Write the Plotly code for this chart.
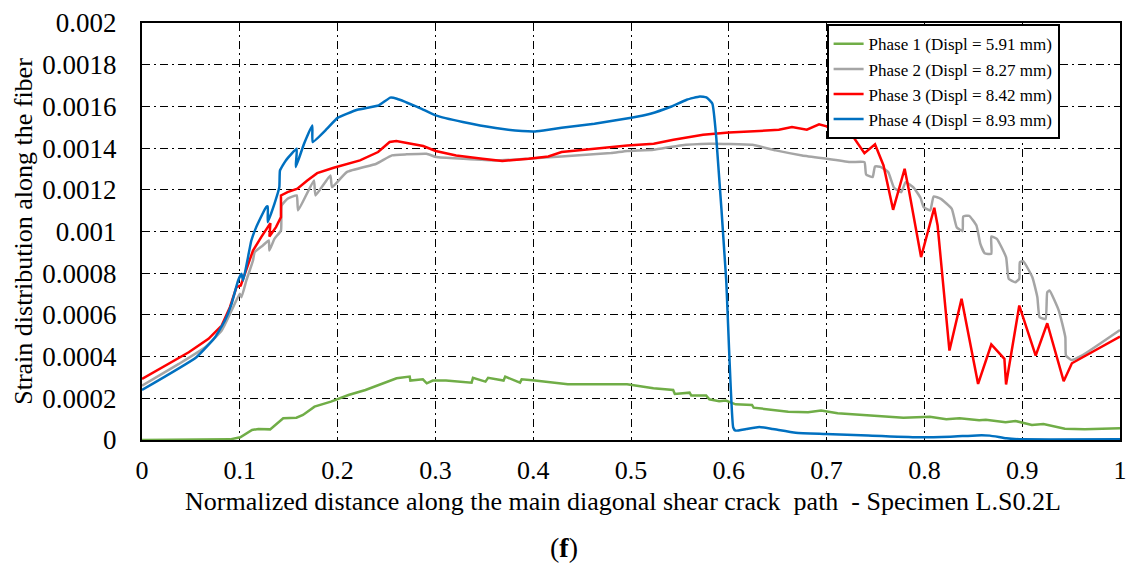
import plotly.graph_objects as go

# Normalized distance / strain readings for each loading phase
phase1_x = [0, 0.04, 0.072, 0.09, 0.1005, 0.1125, 0.119, 0.131, 0.1444, 0.1579, 0.1646, 0.1764,
            0.1932, 0.2111, 0.2285, 0.247, 0.2603, 0.2737, 0.2744, 0.2872, 0.2912, 0.2973, 0.3108,
            0.337, 0.3384, 0.3512, 0.3539, 0.3697, 0.3714, 0.3865, 0.3882, 0.4017, 0.4354, 0.4623,
            0.496, 0.5229, 0.5431, 0.5448, 0.5599, 0.5616, 0.5768, 0.5801, 0.5902, 0.597, 0.6069,
            0.6237, 0.6254, 0.6608, 0.681, 0.6944, 0.7113, 0.745, 0.7786, 0.8055, 0.8224, 0.8359,
            0.856, 0.8628, 0.883, 0.8931, 0.9099, 0.9217, 0.9436, 0.9638, 1.0]
phase1_y = [0, 0, 0, 0.000003, 0.000013, 0.000048, 0.000053, 0.000051, 0.000104, 0.000107, 0.00012,
            0.00016, 0.000184, 0.000216, 0.00024, 0.000272, 0.000296, 0.000304, 0.000285, 0.000291,
            0.000272, 0.000285, 0.000285, 0.000275, 0.000298, 0.00028, 0.000298, 0.000285, 0.000304,
            0.000275, 0.000291, 0.000285, 0.000267, 0.000267, 0.000267, 0.000248, 0.00024, 0.000221,
            0.000227, 0.000214, 0.000214, 0.000195, 0.000186, 0.000189, 0.000171, 0.000168, 0.000155,
            0.000136, 0.000133, 0.000141, 0.000128, 0.000117, 0.000107, 0.000112, 0.0000992, 0.000104,
            0.0000944, 0.0000976, 0.0000848, 0.0000912, 0.000072, 0.0000768, 0.0000544, 0.0000512,
            0.000056]

phase2_x = [0, 0.0377, 0.0646, 0.0815, 0.0916, 0.1, 0.1017, 0.1067, 0.1135, 0.1152, 0.1236, 0.1296,
            0.1303, 0.1354, 0.1421, 0.1428, 0.1488, 0.1582, 0.1596, 0.1758, 0.1774, 0.1926, 0.1943,
            0.2094, 0.2397, 0.2556, 0.2707, 0.2909, 0.301, 0.328, 0.3616, 0.3953, 0.429, 0.4795,
            0.4963, 0.5232, 0.5502, 0.5805, 0.6, 0.624, 0.648, 0.675, 0.7, 0.725, 0.7387, 0.7404,
            0.7471, 0.7495, 0.7556, 0.763, 0.769, 0.7764, 0.7808, 0.7892, 0.796, 0.7993, 0.806,
            0.8094, 0.8168, 0.828, 0.833, 0.839, 0.8397, 0.8458, 0.8532, 0.8572, 0.8616, 0.8684,
            0.8684, 0.8741, 0.8835, 0.8862, 0.8929, 0.897, 0.8976, 0.901, 0.9104, 0.9155, 0.9178,
            0.9239, 0.9256, 0.9279, 0.9374, 0.9441, 0.9448, 0.9502, 0.9609, 1.0]
phase2_y = [0.00026, 0.000365, 0.000445, 0.000525, 0.000621, 0.000701, 0.000685, 0.000765, 0.000861,
            0.000901, 0.000933, 0.000957, 0.000909, 0.000965, 0.001005, 0.001125, 0.001157, 0.001173,
            0.001101, 0.001245, 0.001173, 0.001269, 0.001213, 0.001285, 0.001325, 0.001365, 0.00137,
            0.001373, 0.001357, 0.001349, 0.001341, 0.001349, 0.00136, 0.001376, 0.001386, 0.001392,
            0.001413, 0.001421, 0.00142, 0.001416, 0.001389, 0.001365, 0.001349, 0.001333, 0.001333,
            0.0012736, 0.0012608, 0.001312, 0.0013088, 0.0012848, 0.0012096, 0.0011888, 0.0012368,
            0.0012096, 0.0011616, 0.0011168, 0.0011008, 0.001168, 0.0011568, 0.0011088, 0.0010208,
            0.0010016, 0.001072, 0.0010752, 0.0010288, 0.0009408, 0.000896, 0.0008928, 0.000976,
            0.0009648, 0.0008768, 0.0007728, 0.0007568, 0.0007728, 0.0008528, 0.0008576, 0.0007808,
            0.0006848, 0.0005888, 0.0005808, 0.0007088, 0.0007168, 0.0006208, 0.0004928, 0.0004048,
            0.000384, 0.0004048, 0.000528]

phase3_x = [0, 0.0209, 0.0478, 0.068, 0.0815, 0.0899, 0.0966, 0.101, 0.1067, 0.1135, 0.1219, 0.1313,
            0.1303, 0.137, 0.1421, 0.1421, 0.1488, 0.1589, 0.169, 0.1791, 0.196, 0.2229, 0.2414,
            0.2532, 0.26, 0.2707, 0.2875, 0.3003, 0.3212, 0.3481, 0.3684, 0.3953, 0.4155, 0.429,
            0.4626, 0.4963, 0.5232, 0.5434, 0.5737, 0.6, 0.631, 0.6512, 0.6646, 0.6798, 0.6923, 0.7,
            0.7101, 0.7192, 0.7286, 0.7387, 0.7495, 0.7582, 0.768, 0.7798, 0.7842, 0.7966, 0.8101,
            0.8135, 0.8256, 0.838, 0.8549, 0.8684, 0.8818, 0.8835, 0.897, 0.9138, 0.9256, 0.9424,
            0.9508, 1.0]
phase3_y = [0.000293, 0.000349, 0.000421, 0.000485, 0.000549, 0.000637, 0.000733, 0.000741, 0.000813,
            0.000909, 0.000973, 0.00104, 0.000976, 0.001021, 0.001069, 0.001173, 0.001189, 0.001205,
            0.001245, 0.00128, 0.001306, 0.001341, 0.001381, 0.001429, 0.001434, 0.001424, 0.00141,
            0.001386, 0.001365, 0.001349, 0.001338, 0.001349, 0.00136, 0.001381, 0.001397, 0.001413,
            0.001421, 0.00144, 0.001464, 0.001475, 0.001482, 0.001488, 0.001501, 0.001488, 0.001514,
            0.001504, 0.001472, 0.001493, 0.001445, 0.001376, 0.001418, 0.001317, 0.001104, 0.001301,
            0.001197, 0.000877, 0.001114, 0.001029, 0.000429, 0.000677, 0.000269, 0.000458, 0.000389,
            0.000266, 0.000645, 0.000405, 0.00056, 0.000282, 0.000368, 0.000496]

phase4_x = [0, 0.0556, 0.0747, 0.0848, 0.0916, 0.0983, 0.1017, 0.1034, 0.1084, 0.1118, 0.1168, 0.1269,
            0.1286, 0.1286, 0.1354, 0.1404, 0.1411, 0.1471, 0.1582, 0.1572, 0.1657, 0.1741, 0.1745,
            0.1892, 0.2, 0.2202, 0.2421, 0.2539, 0.2606, 0.2842, 0.3003, 0.328, 0.3616, 0.3886, 0.402,
            0.4155, 0.429, 0.4626, 0.5003, 0.5199, 0.54, 0.5569, 0.5704, 0.5771, 0.5832, 0.5872,
            0.5973, 0.6045, 0.6068, 0.6178, 0.6313, 0.6448, 0.6684, 0.6987, 0.7424, 0.7929, 0.8266,
            0.8535, 0.867, 0.8838, 0.9007, 1.0]
phase4_y = [0.00024, 0.000397, 0.000493, 0.000573, 0.000653, 0.000765, 0.000797, 0.000765, 0.000877,
            0.000957, 0.001021, 0.001117, 0.00112, 0.001045, 0.001133, 0.001213, 0.001293, 0.001341,
            0.001397, 0.001309, 0.001421, 0.001509, 0.001429, 0.001493, 0.001545, 0.001584, 0.001605,
            0.001642, 0.001637, 0.001592, 0.001557, 0.001525, 0.001496, 0.001482, 0.00148, 0.001488,
            0.001498, 0.001517, 0.001546, 0.001565, 0.001597, 0.001632, 0.001648, 0.001643, 0.001613,
            0.00145, 0.00077, 0.00006, 0.000045, 0.000053, 0.000062, 0.000053, 0.000035, 0.000029,
            0.000021, 0.000013, 0.000016, 0.000022, 0.000021, 0.000008, 0.000003, 0.000003]

# name, x, y, colour, line shape
series = [
    ("Phase 1 (Displ = 5.91 mm)", phase1_x, phase1_y, "#70AD47", "linear"),
    ("Phase 2 (Displ = 8.27 mm)", phase2_x, phase2_y, "#A5A5A5", "spline"),
    ("Phase 3 (Displ = 8.42 mm)", phase3_x, phase3_y, "#FF0000", "linear"),
    ("Phase 4 (Displ = 8.93 mm)", phase4_x, phase4_y, "#0070C0", "spline"),
]

x_ticks = [0, 0.1, 0.2, 0.3, 0.4, 0.5, 0.6, 0.7, 0.8, 0.9, 1.0]
x_tick_text = ["0", "0.1", "0.2", "0.3", "0.4", "0.5", "0.6", "0.7", "0.8", "0.9", "1"]
y_ticks = [0, 0.0002, 0.0004, 0.0006, 0.0008, 0.001, 0.0012, 0.0014, 0.0016, 0.0018, 0.002]
y_tick_text = ["0", "0.0002", "0.0004", "0.0006", "0.0008", "0.001", "0.0012", "0.0014",
               "0.0016", "0.0018", "0.002"]
x_title = "Normalized distance along the main diagonal shear crack  path  - Specimen L.S0.2L"
y_title = "Strain distribution along the fiber"

FONT = "Times New Roman"
SERIF = dict(family=FONT, color="black")

fig = go.Figure()
for name, xs, ys, color, shape in series:
    line = dict(color=color, width=2.5, shape=shape)
    if shape == "spline":
        line["smoothing"] = 0.4
    fig.add_trace(go.Scatter(x=xs, y=ys, name=name, mode="lines", line=line))

grid_dash = "8px,4px,2px,4px"
fig.update_layout(
    width=1135, height=568,
    margin=dict(l=142, r=8, t=22, b=128),
    paper_bgcolor="white", plot_bgcolor="white",
    font=dict(family=FONT, size=18, color="black"),
    showlegend=True,
    legend=dict(
        x=0.70, y=0.997, xanchor="left", yanchor="top",
        bgcolor="white", bordercolor="black", borderwidth=2,
        font=dict(SERIF, size=17),
        tracegroupgap=0,
    ),
    xaxis=dict(
        range=[0, 1], tickvals=x_ticks, ticktext=x_tick_text,
        showline=True, linecolor="black", linewidth=2, mirror=True,
        showgrid=True, gridcolor="black", gridwidth=1, griddash=grid_dash,
        zeroline=False, ticks="outside", ticklen=6, tickcolor="rgba(0,0,0,0)",
        tickfont=dict(SERIF, size=26),
    ),
    yaxis=dict(
        range=[0, 0.002], tickvals=y_ticks, ticktext=y_tick_text,
        showline=True, linecolor="black", linewidth=2, mirror=True,
        showgrid=True, gridcolor="black", gridwidth=1, griddash=grid_dash,
        zeroline=False, ticks="outside", ticklen=18, tickcolor="rgba(0,0,0,0)",
        tickfont=dict(SERIF, size=27),
        title=dict(text=y_title, font=dict(SERIF, size=26), standoff=2),
    ),
    annotations=[
        # x-axis caption placed just under the tick labels
        dict(text=x_title, xref="paper", yref="paper", x=0.492, y=-0.147,
             xanchor="center", yanchor="middle", showarrow=False,
             font=dict(SERIF, size=26)),
        dict(text="(<b>f</b>)", xref="paper", yref="paper", x=0.431, y=-0.258,
             xanchor="center", yanchor="middle", showarrow=False,
             font=dict(SERIF, size=28)),
    ],
)

fig.write_html("out.html")
